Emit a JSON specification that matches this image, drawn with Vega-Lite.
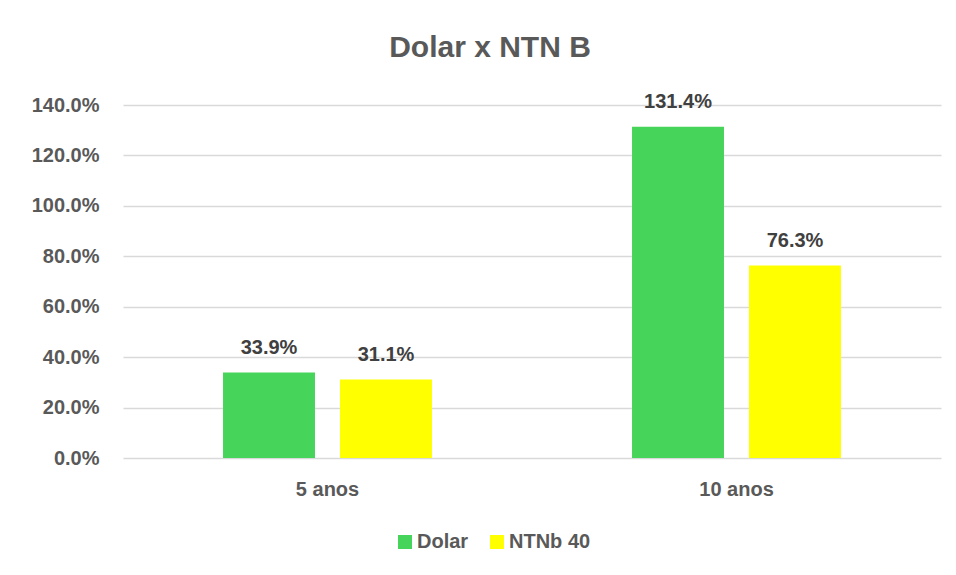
{
  "$schema": "https://vega.github.io/schema/vega-lite/v6.json",
  "width": 818,
  "height": 353,
  "autosize": "none",
  "padding": {"left": 123, "top": 105, "right": 15, "bottom": 117},
  "background": "white",
  "title": {
    "text": "Dolar x NTN B",
    "font": "Liberation Sans",
    "fontSize": 30,
    "fontWeight": "bold",
    "color": "#595959",
    "anchor": "middle",
    "dx": -42,
    "offset": 29
  },
  "data": {
    "values": [
      {"periodo": "5 anos", "serie": "Dolar", "valor": 0.339},
      {"periodo": "5 anos", "serie": "NTNb 40", "valor": 0.311},
      {"periodo": "10 anos", "serie": "Dolar", "valor": 1.314},
      {"periodo": "10 anos", "serie": "NTNb 40", "valor": 0.763}
    ]
  },
  "encoding": {
    "x": {
      "field": "periodo",
      "type": "nominal",
      "sort": ["5 anos", "10 anos"],
      "scale": {"paddingInner": 0, "paddingOuter": 0},
      "axis": {
        "title": null,
        "labelAngle": 0,
        "domain": false,
        "ticks": false,
        "labelPadding": 21,
        "labelFont": "Liberation Sans",
        "labelFontSize": 20,
        "labelFontWeight": "bold",
        "labelColor": "#595959"
      }
    },
    "xOffset": {
      "field": "serie",
      "type": "nominal",
      "sort": ["Dolar", "NTNb 40"],
      "scale": {"paddingInner": 0.214, "paddingOuter": 0.855}
    },
    "y": {
      "field": "valor",
      "type": "quantitative",
      "scale": {"domain": [0, 1.4], "nice": false},
      "axis": {
        "title": null,
        "values": [0, 0.2, 0.4, 0.6, 0.8, 1.0, 1.2, 1.4],
        "format": ".1%",
        "domain": false,
        "ticks": false,
        "labelPadding": 24,
        "labelFont": "Liberation Sans",
        "labelFontSize": 20,
        "labelFontWeight": "bold",
        "labelColor": "#595959",
        "gridColor": "#d9d9d9",
        "gridWidth": 1.5
      }
    }
  },
  "layer": [
    {
      "mark": {"type": "bar"},
      "encoding": {
        "color": {
          "field": "serie",
          "type": "nominal",
          "sort": ["Dolar", "NTNb 40"],
          "scale": {"domain": ["Dolar", "NTNb 40"], "range": ["#47D45A", "#FFFF00"]},
          "legend": {
            "title": null,
            "orient": "none",
            "direction": "horizontal",
            "legendX": 272,
            "legendY": 427,
            "symbolType": "square",
            "symbolSize": 196,
            "symbolStrokeWidth": 0,
            "labelFont": "Liberation Sans",
            "labelFontSize": 20,
            "labelFontWeight": "bold",
            "labelColor": "#595959",
            "labelOffset": 2,
            "columnPadding": 18
          }
        }
      }
    },
    {
      "mark": {
        "type": "text",
        "baseline": "bottom",
        "dy": -15,
        "font": "Liberation Sans",
        "fontSize": 20,
        "fontWeight": "bold",
        "color": "#404040"
      },
      "encoding": {
        "text": {"field": "valor", "type": "quantitative", "format": ".1%"}
      }
    }
  ],
  "config": {
    "view": {"stroke": null}
  }
}
